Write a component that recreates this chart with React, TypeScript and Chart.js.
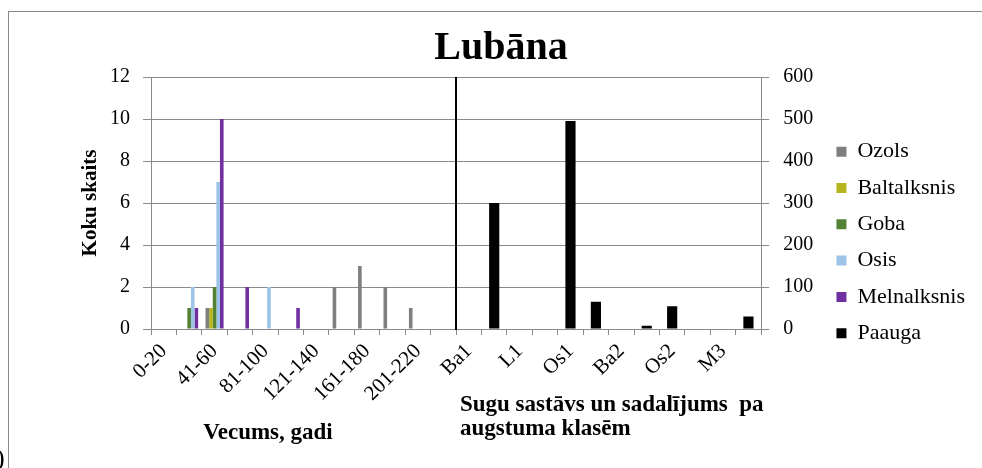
import React, { useEffect, useRef } from "react";
import { Chart, registerables } from "chart.js";

Chart.register(...registerables);

// ---- data ----
const ageClasses = ["0-20", "21-40", "41-60", "61-80", "81-100", "101-120", "121-140", "141-160", "161-180", "181-200", "201-220", "221-240"];
const heightClasses = ["Ba1", "M1", "L1", "B1", "Os1", "M2", "Ba2", "L2", "Os2", "B2", "M3", "Os3"];
const categories = [...ageClasses, ...heightClasses];

const ozols = [0, 0, 1, 0, 0, 0, 0, 2, 3, 2, 1, 0];
const baltalksnis = [0, 0, 1, 0, 0, 0, 0, 0, 0, 0, 0, 0];
const goba = [0, 1, 2, 0, 0, 0, 0, 0, 0, 0, 0, 0];
const osis = [0, 2, 7, 0, 2, 0, 0, 0, 0, 0, 0, 0];
const melnalksnis = [0, 1, 10, 2, 0, 1, 0, 0, 0, 0, 0, 0];
const paauga = [0, 300, 0, 0, 495, 65, 0, 8, 54, 0, 0, 30];

const leftTicks = { min: 0, max: 12, step: 2 };
const rightTicks = { min: 0, max: 600, step: 100 };

const FONT = "'Liberation Serif', 'Times New Roman', serif";

// zero counts are simply not drawn (as in the original), slots stay reserved
const pad = (arr: number[], before: number, after: number) => [
  ...Array(before).fill(null),
  ...arr.map((v) => (v === 0 ? null : v)),
  ...Array(after).fill(null),
];

const separatorPlugin = {
  id: "separator",
  afterDatasetsDraw(chart: any) {
    const xs = chart.scales.x;
    const n = ageClasses.length;
    const px = Math.round((xs.getPixelForValue(n - 1) + xs.getPixelForValue(n)) / 2);
    const { top, bottom } = chart.chartArea;
    const ctx = chart.ctx;
    ctx.save();
    ctx.strokeStyle = "#000";
    ctx.lineWidth = 2;
    ctx.beginPath();
    ctx.moveTo(px, top);
    ctx.lineTo(px, bottom + 1);
    ctx.stroke();
    ctx.restore();
  },
};

function LubanaChart() {
  const ref = useRef<HTMLCanvasElement | null>(null);

  useEffect(() => {
    if (!ref.current) return;
    const leftDs = (label: string, data: number[], color: string) => ({
      label,
      data: pad(data, 0, heightClasses.length),
      backgroundColor: color,
      borderWidth: 0,
      yAxisID: "y",
      categoryPercentage: 0.71,
      barPercentage: 1,
    });
    const chart = new Chart(ref.current, {
      type: "bar",
      data: {
        labels: categories,
        datasets: [
          leftDs("Ozols", ozols, "#7f7f7f"),
          leftDs("Baltalksnis", baltalksnis, "#b5b51f"),
          leftDs("Goba", goba, "#548235"),
          leftDs("Osis", osis, "#9dc3e6"),
          leftDs("Melnalksnis", melnalksnis, "#7030a0"),
          {
            label: "Paauga",
            data: pad(paauga, ageClasses.length, 0),
            backgroundColor: "#000000",
            borderWidth: 0,
            yAxisID: "y2",
            grouped: false,
            categoryPercentage: 0.4,
            barPercentage: 1,
          },
        ],
      },
      options: {
        animation: false,
        responsive: false,
        events: [],
        layout: { padding: { left: 27, right: 7, top: 0, bottom: 0 } },
        scales: {
          x: {
            type: "category",
            position: "bottom",
            offset: true,
            grid: {
              display: true,
              drawOnChartArea: false,
              drawTicks: true,
              tickLength: 6,
              color: "#8a8a8a",
              offset: true,
            },
            border: { display: true, color: "#8a8a8a", width: 1 },
            ticks: {
              autoSkip: false,
              maxRotation: 45,
              minRotation: 45,
              padding: 4,
              color: "#000",
              font: { family: FONT, size: 21 },
              callback: (_v: any, i: number) => (i % 2 === 0 ? categories[i] : ""),
            },
            afterFit: (s: any) => {
              s.height = 139;
            },
          },
          y: {
            position: "left",
            min: leftTicks.min,
            max: leftTicks.max,
            ticks: {
              stepSize: leftTicks.step,
              padding: 13,
              color: "#000",
              font: { family: FONT, size: 20 },
            },
            grid: { color: "#8a8a8a", tickLength: 8, lineWidth: 1 },
            border: { display: true, color: "#8a8a8a", width: 1 },
            title: {
              display: true,
              text: "Koku skaits",
              color: "#000",
              font: { family: FONT, size: 21, weight: "bold" },
              padding: { top: 51, bottom: 0 },
            },
            afterFit: (s: any) => {
              s.width = 124;
            },
          },
          y2: {
            position: "right",
            min: rightTicks.min,
            max: rightTicks.max,
            ticks: {
              stepSize: rightTicks.step,
              padding: 14,
              color: "#000",
              font: { family: FONT, size: 20 },
            },
            grid: { drawOnChartArea: false, color: "#8a8a8a", tickLength: 8 },
            border: { display: true, color: "#8a8a8a", width: 1 },
            afterFit: (s: any) => {
              s.width = 61;
            },
          },
        },
        plugins: {
          title: {
            display: true,
            text: "Lubāna",
            color: "#000",
            font: { family: FONT, size: 40, weight: "bold" },
            padding: { top: 25, bottom: 4 },
          },
          legend: {
            position: "right",
            align: "start",
            title: { display: true, text: " ", padding: 50, font: { family: FONT, size: 22 } },
            labels: {
              boxWidth: 10,
              boxHeight: 10,
              padding: 14.3,
              color: "#000",
              font: { family: FONT, size: 22 },
            },
          },
          tooltip: { enabled: false },
        },
      },
      plugins: [separatorPlugin],
    } as any);
    return () => chart.destroy();
  }, []);

  return <canvas ref={ref} width={982} height={468} style={{ display: "block" }} />;
}

export default function App() {
  const titleStyle: React.CSSProperties = {
    position: "absolute",
    fontFamily: FONT,
    fontWeight: "bold",
    fontSize: 23,
    lineHeight: "24px",
    color: "#000",
    whiteSpace: "pre",
  };
  return (
    <div style={{ position: "absolute", left: 0, top: 0, width: 982, height: 468, overflow: "hidden", background: "#fff" }}>
      <div
        style={{
          position: "absolute",
          left: 8,
          top: 11,
          width: 1000,
          height: 500,
          borderLeft: "1px solid #888",
          borderTop: "1px solid #888",
        }}
      />
      <div style={{ position: "absolute", left: 0, top: 0 }}>
        <LubanaChart />
      </div>
      <div style={{ ...titleStyle, left: 268, top: 420, transform: "translateX(-50%)" }}>Vecums, gadi</div>
      <div style={{ ...titleStyle, left: 460, top: 392 }}>{"Sugu sastāvs un sadalījums  pa\naugstuma klasēm"}</div>
      <div style={{ position: "absolute", left: -4, top: 443, fontFamily: FONT, fontSize: 26, color: "#000" }}>)</div>
    </div>
  );
}
